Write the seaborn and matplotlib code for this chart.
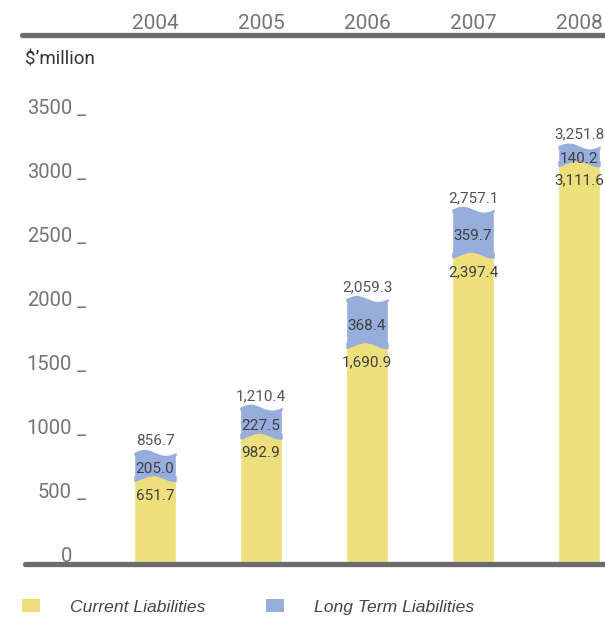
import numpy as np
import pandas as pd
import matplotlib
matplotlib.use("Agg")
import matplotlib.pyplot as plt
import matplotlib.transforms as mtransforms
from matplotlib.lines import Line2D
from matplotlib.patches import Patch
import seaborn as sns

# ---- data ----
years = ["2004", "2005", "2006", "2007", "2008"]
current = [651.7, 982.9, 1690.9, 2397.4, 3111.6]
long_term = [205.0, 227.5, 368.4, 359.7, 140.2]
total = [856.7, 1210.4, 2059.3, 2757.1, 3251.8]
current_lbl = ["651.7", "982.9", "1,690.9", "2,397.4", "3,111.6"]
long_lbl = ["205.0", "227.5", "368.4", "359.7", "140.2"]
total_lbl = ["856.7", "1,210.4", "2,059.3", "2,757.1", "3,251.8"]
yticks = [0, 500, 1000, 1500, 2000, 2500, 3000, 3500]

YELLOW = "#ECDF7C"
BLUE = "#97ADDB"
LINE = "#6B6B6B"
GRAY = "#747474"
DARK = "#404040"

sns.set_style("white")
plt.rcParams["font.family"] = ["Roboto", "DejaVu Sans"]

W, H = 605, 621
fig = plt.figure(figsize=(W / 100, H / 100), dpi=100)
ax = fig.add_axes([0, 59 / H, 1, 527 / H])

df = pd.DataFrame({"year": years, "total": total, "current": current})
BW = 0.4
sns.barplot(data=df, x="year", y="total", color=BLUE, saturation=1, width=BW, ax=ax, zorder=2)
sns.barplot(data=df, x="year", y="current", color=YELLOW, saturation=1, width=BW, ax=ax, zorder=3)

ppu = 448 / 3500.0  # pixels per unit
ax.set_ylim(0, 527 / ppu)
ax.set_xlim(-155 / 106, 450 / 106)

# wavy edges
A = 3 / ppu
t = np.linspace(0, 1, 200)
for i in range(len(years)):
    x = i - BW / 2 + t * BW
    wt = total[i] + A * np.sin(2 * np.pi * t)
    ax.fill_between(x, total[i] - A - 1, wt, color=BLUE, lw=0, zorder=4)
    ax.fill_between(x, wt, total[i] + A + 2, color="white", lw=0, zorder=4)
    wc = current[i] + A * np.sin(2 * np.pi * (t - 0.2))
    ax.fill_between(x, current[i] - A - 1, wc, color=YELLOW, lw=0, zorder=5)
    ax.fill_between(x, wc, current[i] + A + 1, color=BLUE, lw=0, zorder=5)

    ax.text(i, total[i] + 11 / ppu, total_lbl[i], ha="center", va="center",
            fontsize=11, color="#555555", zorder=6)
    ax.text(i, (current[i] + total[i]) / 2 - 4 / ppu, long_lbl[i], ha="center", va="center",
            fontsize=11, color=DARK, zorder=6)
    ax.text(i, current[i] - 17 / ppu, current_lbl[i], ha="center", va="center",
            fontsize=11, color=DARK, zorder=6)

# axes styling
for s in ax.spines.values():
    s.set_visible(False)
ax.set_xlabel("")
ax.set_ylabel("")
ax.xaxis.tick_top()
ax.set_xticks(range(len(years)))
ax.set_xticklabels(years, fontsize=15, color=GRAY)
ax.tick_params(axis="x", length=0, pad=1.5)

ax.set_yticks(yticks)
ax.set_yticklabels([str(v) for v in yticks], fontsize=14.5, color=GRAY)
ax.tick_params(axis="y", length=0, pad=-72 * 0.72)
for lab in ax.get_yticklabels():
    lab.set_va("baseline")
    lab.set_ha("right")
blend = mtransforms.blended_transform_factory(ax.transAxes, ax.transData)
for v in yticks[1:]:
    ax.text(77 / W, v, "_", transform=blend, ha="left", va="baseline",
            fontsize=14.5, color=GRAY)

# horizontal rules
fig.add_artist(Line2D([22 / W, 1], [1 - 35 / H] * 2, lw=3.8, color=LINE))
fig.add_artist(Line2D([25 / W, 1], [1 - 563.5 / H] * 2, lw=3.8, color=LINE))

fig.text(25 / W, 1 - 59 / H, "$\u2019million", fontsize=13.5, color="#333333",
         ha="left", va="center")

handles = [Patch(facecolor=YELLOW, edgecolor="none"), Patch(facecolor=BLUE, edgecolor="none")]
fig.legend(handles, ["Current Liabilities", "Long Term Liabilities"],
           loc="center left", bbox_to_anchor=(22 / W, 1 - 607 / H), ncol=2,
           frameon=False, borderpad=0, borderaxespad=0,
           prop={"family": "Liberation Sans", "style": "italic", "size": 12.6},
           labelcolor="#444444", handlelength=1.03, handleheight=0.74,
           handletextpad=1.7, columnspacing=3.5)

fig.savefig("out.png", dpi=100)
